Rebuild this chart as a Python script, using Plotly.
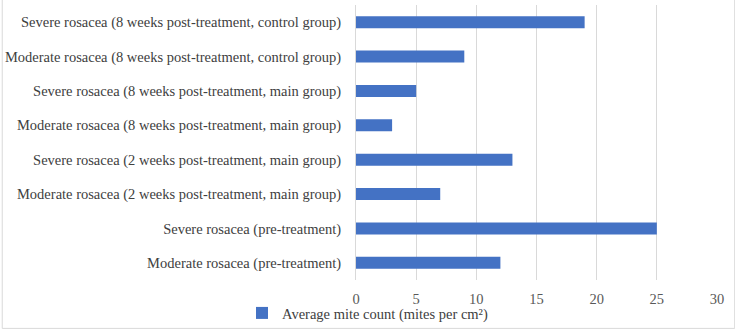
import plotly.graph_objects as go

categories = [
    "Moderate rosacea (pre-treatment)",
    "Severe rosacea (pre-treatment)",
    "Moderate rosacea (2 weeks post-treatment, main group)",
    "Severe rosacea (2 weeks post-treatment, main group)",
    "Moderate rosacea (8 weeks post-treatment, main group)",
    "Severe rosacea (8 weeks post-treatment, main group)",
    "Moderate rosacea (8 weeks post-treatment, control group)",
    "Severe rosacea (8 weeks post-treatment, control group)",
]
values = [12, 25, 7, 13, 3, 5, 9, 19]
series_name = "Average mite count (mites per cm²)"
x_ticks = [0, 5, 10, 15, 20, 25, 30]

font_family = "'Liberation Serif', 'Times New Roman', serif"

fig = go.Figure()
fig.add_trace(go.Bar(
    y=categories, x=values, orientation="h", name=series_name,
    marker=dict(color="#4472C4", line=dict(width=0)),
    width=0.35, showlegend=True,
))

fig.update_layout(
    width=735, height=329,
    margin=dict(l=356, r=18, t=5, b=49),
    paper_bgcolor="white", plot_bgcolor="white",
    font=dict(family=font_family, size=14.5, color="#404040"),
    bargap=0.65,
    xaxis=dict(range=[0, 30], tickvals=x_ticks, showgrid=True, gridcolor="#D9D9D9",
               gridwidth=1, zeroline=False, showline=False, ticks="",
               ticklabelstandoff=8, automargin=False,
               tickfont=dict(family=font_family, size=14.5, color="#595959")),
    yaxis=dict(categoryorder="array", categoryarray=categories, showgrid=False,
               showline=True, linecolor="#D9D9D9", ticks="", ticklabelstandoff=11,
               automargin=False,
               tickfont=dict(family=font_family, size=14.5, color="#404040")),
    legend=dict(orientation="h", xref="container", yref="container",
                x=0.5, xanchor="center", y=-0.035, yanchor="bottom",
                bgcolor="rgba(0,0,0,0)",
                font=dict(family=font_family, size=14.5, color="#404040"), itemwidth=30),
    shapes=[dict(type="rect", xref="paper", yref="paper", x0=-0.98, x1=1.049,
                 y0=-0.176, y1=1.02, line=dict(color="#D9D9D9", width=1))],
)

fig.write_html("out.html")
